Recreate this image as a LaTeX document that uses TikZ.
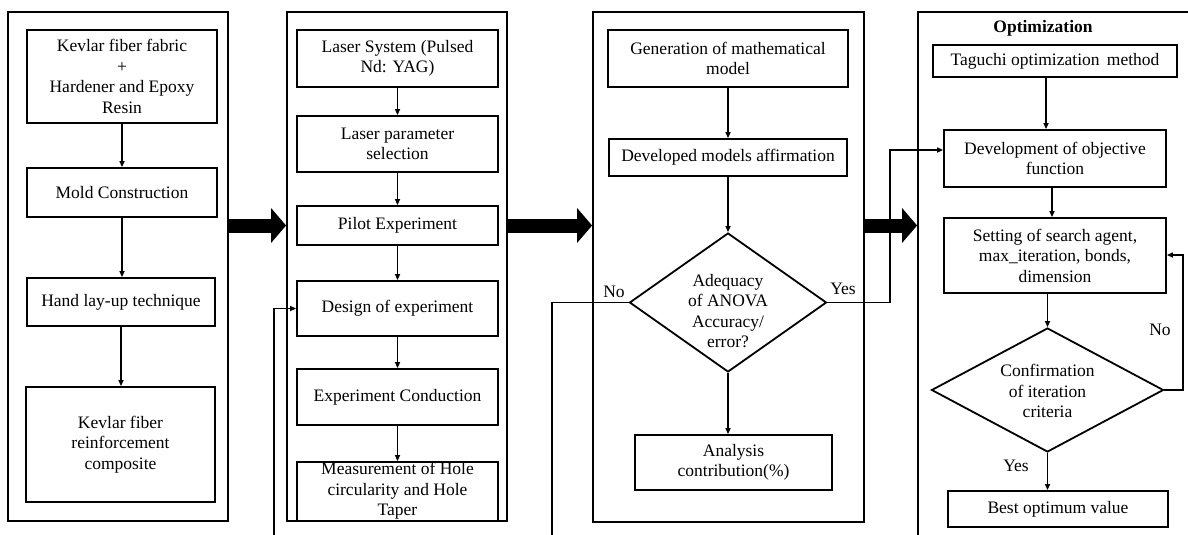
\documentclass[tikz,border=0pt]{standalone}
\usepackage{fontspec}
\setmainfont{Liberation Serif}
\usetikzlibrary{arrows.meta,shapes.geometric,calc}

\begin{document}
\begin{tikzpicture}[x=1pt,y=-1pt,
  every node/.style={font=\fontsize{17.5}{20.5}\selectfont},
  panel/.style={draw, line width=1.8pt, rectangle, inner sep=0pt},
  box/.style={draw, line width=1.8pt, rectangle, align=center, inner sep=2pt},
  dia/.style={draw, line width=1.8pt, diamond, inner sep=0pt},
  txt/.style={align=center, inner sep=0pt},
  conn/.style={line width=1.6pt, -{Triangle[length=6pt,width=5pt]}},
  wire/.style={line width=1.6pt},
  bigarrow/.style={line width=14pt, -{Triangle[length=15pt,width=34pt]}}
]
\useasboundingbox (0,0) rectangle (1188,535);
\clip (0,0) rectangle (1188,535);

% ---------- panels ----------
\node[panel, minimum width=220pt, minimum height=509pt] (P1) at (118,266.5) {};
\node[panel, minimum width=220pt, minimum height=509pt] (P2) at (397,266.5) {};
\node[panel, minimum width=271pt, minimum height=510pt] (P3) at (728.5,267) {};
\node[panel, minimum width=292pt, minimum height=548pt] (P4) at (1064,286) {};

% ---------- panel 1: composite fabrication ----------
\node[box, minimum width=190pt, minimum height=93pt] (kev) at (122,76.5)
  {Kevlar fiber fabric\\+\\Hardener and Epoxy\\Resin};
\node[box, minimum width=190pt, minimum height=49pt] (mold) at (122,192.5)
  {Mold Construction};
\node[box, minimum width=188pt, minimum height=48pt] (hand) at (121,302)
  {Hand lay-up technique};
\node[box, minimum width=189pt, minimum height=115pt] (comp) at (120.5,444.5)
  {Kevlar fiber\\reinforcement\\composite};
\draw[conn] (kev.south) -- (kev.south |- mold.north);
\draw[conn] (mold.south) -- (mold.south |- hand.north);
\draw[conn] (hand.south) -- (hand.south |- comp.north);

% ---------- panel 2: laser drilling experiments ----------
\node[box, minimum width=201pt, minimum height=57pt] (laser) at (397.5,58.5)
  {Laser System (Pulsed\\Nd: YAG)};
\node[box, minimum width=201pt, minimum height=56pt] (param) at (397.5,144)
  {Laser parameter\\selection};
\node[box, minimum width=201pt, minimum height=39pt] (pilot) at (397.5,225.5)
  {Pilot Experiment};
\node[box, minimum width=201pt, minimum height=55pt] (design) at (397.5,308.5)
  {Design of experiment};
\node[box, minimum width=201pt, minimum height=56pt] (conduct) at (397.5,397)
  {Experiment Conduction};
\node[box, minimum width=201pt, minimum height=59pt] (measure) at (397.5,491.5) {};
\node[txt] (measuret) at (397.5,491)
  {Measurement of Hole\\circularity and Hole\\Taper};
\draw[conn] (laser.south) -- (param.north);
\draw[conn] (param.south) -- (pilot.north);
\draw[conn] (pilot.south) -- (design.north);
\draw[conn] (design.south) -- (conduct.north);
\draw[conn] (conduct.south) -- (measure.north);

% ---------- panel 3: modelling and analysis ----------
\node[box, minimum width=240pt, minimum height=57pt] (gen) at (728,58.5)
  {Generation of mathematical\\model};
\node[box, minimum width=238pt, minimum height=37pt] (affirm) at (728,157.5)
  {Developed models affirmation};
\node[dia, minimum width=197pt, minimum height=139pt] (d1) at (728,302.5) {};
\node[txt] (d1t) at (728,311) {Adequacy\\of ANOVA\\Accuracy/\\error?};
\node[box, minimum width=197pt, minimum height=55pt] (anal) at (733.5,462.5)
  {Analysis\\contribution(\%)};
\draw[conn] (gen.south) -- (affirm.north);
\draw[conn] (affirm.south) -- (d1.north);
\draw[conn] (d1.south) -- (d1.south |- anal.north);
\node[txt] (noA) at (614,292) {No};
\node[txt] (yesA) at (843,289) {Yes};

% ---------- panel 4: optimization ----------
\node[txt, font=\fontsize{17.5}{20.5}\selectfont\bfseries] (opt) at (1043,28) {Optimization};
\node[box, minimum width=244pt, minimum height=32pt] (tag) at (1055,61)
  {Taguchi optimization\, method};
\node[box, minimum width=222pt, minimum height=57pt] (dev) at (1055,158.5)
  {Development of objective\\function};
\node[box, minimum width=222pt, minimum height=75pt] (setting) at (1055,255.5)
  {Setting of search agent,\\max\_iteration, bonds,\\dimension};
\node[dia, minimum width=232pt, minimum height=124pt] (d2) at (1047.5,390) {};
\node[txt] (d2t) at (1047.5,391) {Confirmation\\of iteration\\criteria};
\node[box, minimum width=220pt, minimum height=36pt] (best) at (1058,509)
  {Best optimum value};
\draw[conn] ([xshift=-9pt]tag.south) -- ([xshift=-9pt]tag.south |- dev.north);
\draw[conn] ([xshift=-3pt]dev.south) -- ([xshift=-3pt]dev.south |- setting.north);
\draw[conn] (setting.south -| d2.north) -- (d2.north);
\draw[conn] (d2.south) -- (d2.south |- best.north);
\node[txt] (noB) at (1160,330) {No};
\node[txt] (yesB) at (1016,466) {Yes};

% ---------- feedback and decision routes ----------
\coordinate (yesturn) at (890,150);
\draw[conn] (d1.east) -- (d1.east -| yesturn) -- (yesturn) -- (yesturn -| dev.west);
\coordinate (noend) at (552,545);
\draw[wire] (d1.west) -| (noend);
\coordinate (fbstart) at (274,545);
\draw[conn] (fbstart) |- (design.west);
\coordinate (noturn) at (1183,390);
\draw[conn] (d2.east) -- (noturn) |- ([yshift=0.5pt]setting.east);

% ---------- transitions between stages ----------
\draw[bigarrow] (P1.east |- pilot) -- (P2.west |- pilot);
\draw[bigarrow] (P2.east |- pilot) -- (P3.west |- pilot);
\draw[bigarrow] (P3.east |- pilot) -- (P4.west |- pilot);
\end{tikzpicture}
\end{document}
